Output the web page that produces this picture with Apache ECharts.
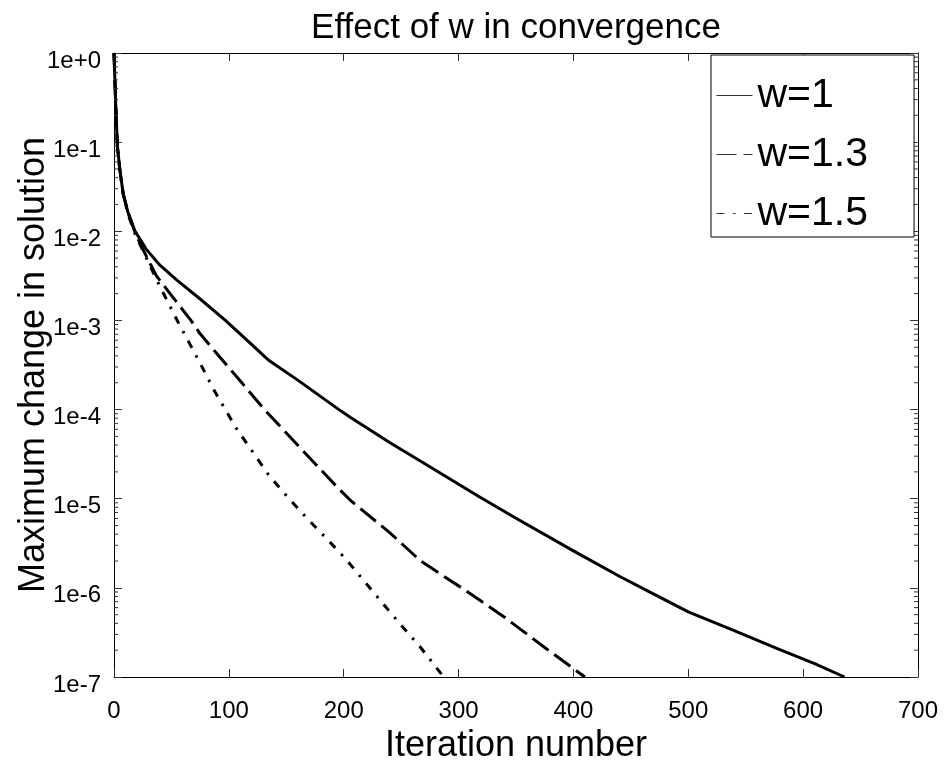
<!DOCTYPE html>
<html>
<head>
<meta charset="utf-8">
<script src="https://cdn.jsdelivr.net/npm/echarts@6/dist/echarts.min.js"></script>
<style>html,body{margin:0;padding:0;background:#fff}#c{width:945px;height:769px}</style>
</head>
<body>
<div id="c"></div>
<script>
// ---- data ----
const seriesNames = ['w=1', 'w=1.3', 'w=1.5'];

const w1Iter   = [0, 1, 2, 3, 5, 8, 12, 18, 28, 40, 55, 75, 97, 119, 135, 160, 198, 206, 240, 280, 318, 350, 400, 440, 470, 500, 540, 577, 610, 636];
const w1Change = [1, 0.398, 0.178, 0.0891, 0.0501, 0.0263, 0.0166, 0.0102, 0.00631, 0.00417, 0.00282, 0.00174, 0.001, 5.5e-4, 3.55e-4, 2.14e-4, 9.55e-5, 8.13e-5, 4.27e-5, 2.09e-5, 1.05e-5, 6.03e-6, 2.6e-6, 1.35e-6, 8.51e-7, 5.37e-7, 3.31e-7, 2.09e-7, 1.41e-7, 1e-7];

const w13Iter   = [0, 1, 2, 3, 5, 8, 12, 18, 25, 37, 50, 67, 75, 90, 110, 131, 160, 195, 206, 240, 267, 305, 340, 375, 410];
const w13Change = [1, 0.398, 0.178, 0.0891, 0.0501, 0.0263, 0.0166, 0.01, 0.00631, 0.00316, 0.00191, 0.001, 7.08e-4, 4.17e-4, 2.09e-4, 1e-4, 3.98e-5, 1.32e-5, 9.55e-6, 4.17e-6, 2.0e-6, 9.55e-7, 4.68e-7, 2.14e-7, 1e-7];

const w15Iter   = [0, 1, 2, 3, 5, 8, 12, 18, 26, 40, 55, 75, 87, 106, 121, 135, 151, 168, 186, 202, 235, 250, 267, 287];
const w15Change = [1, 0.398, 0.178, 0.0891, 0.0501, 0.0263, 0.0158, 0.00955, 0.00575, 0.0024, 0.001, 3.31e-4, 1.66e-4, 6.31e-5, 3.31e-5, 1.82e-5, 1.05e-5, 6.03e-6, 3.47e-6, 2.09e-6, 6.46e-7, 3.8e-7, 2.14e-7, 1e-7];

const yTickLabels = ['1e+0', '1e-1', '1e-2', '1e-3', '1e-4', '1e-5', '1e-6', '1e-7'];
const minorDecades = [-7, -6, -5, -4, -3, -2, -1];
const minorMultipliers = [2, 3, 4, 5, 6, 7, 8, 9];

// ---- chart ----
const FONT = "'Liberation Sans', Arial, Helvetica, sans-serif";
const zip = (xs, ys) => xs.map((x, i) => [x, ys[i]]);
const minorTickData = [];
minorDecades.forEach(e => minorMultipliers.forEach(k => minorTickData.push([0, k * Math.pow(10, e)])));

const chart = echarts.init(document.getElementById('c'), null, {renderer: 'canvas'});
const yLabelFmt = v => yTickLabels[Math.round(-Math.log10(v))];
const axisLineStyle = {color: '#000', width: 1};

const option = {
  animation: false,
  backgroundColor: '#fff',
  textStyle: {fontFamily: FONT},
  title: {
    text: 'Effect of w in convergence',
    left: 516, top: 11, padding: 0, textAlign: 'center',
    textStyle: {fontFamily: FONT, fontSize: 35, fontWeight: 'normal', color: '#000'}
  },
  grid: {left: 114, right: 27, top: 53, bottom: 83, containLabel: false},
  legend: {
    data: seriesNames,
    orient: 'vertical',
    left: 711, top: 55,
    padding: [20, 46, 3, 5],
    itemWidth: 36, itemHeight: 20, itemGap: 18,
    backgroundColor: '#fff', borderColor: '#000', borderWidth: 1,
    lineStyle: {width: 1, color: '#333', opacity: 1},
    itemStyle: {opacity: 0, borderWidth: 0},
    textStyle: {fontFamily: FONT, fontSize: 41, lineHeight: 40, color: '#000'},
    selectedMode: false
  },
  xAxis: [{
    type: 'value', min: 0, max: 700, interval: 100, position: 'bottom',
    name: 'Iteration number', nameLocation: 'middle', nameGap: 51, nameMoveOverlap: false,
    nameTextStyle: {fontFamily: FONT, fontSize: 36, color: '#000'},
    axisLine: {show: true, onZero: false, lineStyle: axisLineStyle},
    axisTick: {show: true, inside: true, length: 8, lineStyle: {color: '#333'}},
    axisLabel: {fontFamily: FONT, fontSize: 24, color: '#000', margin: 22},
    splitLine: {show: false}
  }, {
    type: 'value', min: 0, max: 700, interval: 100, position: 'top',
    axisLine: {show: true, onZero: false, lineStyle: axisLineStyle},
    axisTick: {show: true, inside: true, length: 8, lineStyle: {color: '#333'}},
    axisLabel: {show: false}, splitLine: {show: false}
  }],
  yAxis: [{
    type: 'log', logBase: 10, min: 1e-7, max: 1, interval: 1, position: 'left',
    name: 'Maximum change in solution', nameLocation: 'middle', nameGap: 62, nameMoveOverlap: false,
    nameTextStyle: {fontFamily: FONT, fontSize: 36, color: '#000'},
    axisLine: {show: true, onZero: false, lineStyle: axisLineStyle},
    axisTick: {show: true, inside: true, length: 8, lineStyle: {color: '#333'}},
    axisLabel: {fontFamily: FONT, fontSize: 24, color: '#000', margin: 13, verticalAlign: 'top', lineHeight: 16, formatter: yLabelFmt},
    splitLine: {show: false}
  }, {
    type: 'log', logBase: 10, min: 1e-7, max: 1, interval: 1, position: 'right',
    axisLine: {show: true, onZero: false, lineStyle: axisLineStyle},
    axisTick: {show: true, inside: true, length: 8, lineStyle: {color: '#333'}},
    axisLabel: {show: false}, splitLine: {show: false}
  }],
  series: [
    {
      name: seriesNames[0], type: 'line', data: zip(w1Iter, w1Change),
      symbol: 'none', smooth: false,
      lineStyle: {color: '#000', width: 3, type: 'solid', join: 'round'}, itemStyle: {color: '#000'}
    },
    {
      name: seriesNames[1], type: 'line', data: zip(w13Iter, w13Change),
      symbol: 'none', smooth: false,
      lineStyle: {color: '#000', width: 3, type: [20, 7], join: 'round'}, itemStyle: {color: '#000'}
    },
    {
      name: seriesNames[2], type: 'line', data: zip(w15Iter, w15Change),
      symbol: 'none', smooth: false,
      lineStyle: {color: '#000', width: 3, type: [8, 8.5, 2.5, 8.5], join: 'round'}, itemStyle: {color: '#000'}
    },
    {
      name: 'minorTicks', type: 'custom', silent: true, z: 5,
      xAxisIndex: 0, yAxisIndex: 0,
      encode: {x: 0, y: 1},
      data: minorTickData,
      renderItem: (params, api) => {
        const v = api.value(1);
        const pL = api.coord([0, v]);
        const pR = api.coord([700, v]);
        const st = {stroke: '#333', lineWidth: 1};
        return {type: 'group', children: [
          {type: 'line', shape: {x1: pL[0], y1: pL[1], x2: pL[0] + 4, y2: pL[1]}, style: st},
          {type: 'line', shape: {x1: pR[0], y1: pR[1], x2: pR[0] - 4, y2: pR[1]}, style: st}
        ]};
      }
    }
  ]
};
chart.setOption(option);
</script>
</body>
</html>
